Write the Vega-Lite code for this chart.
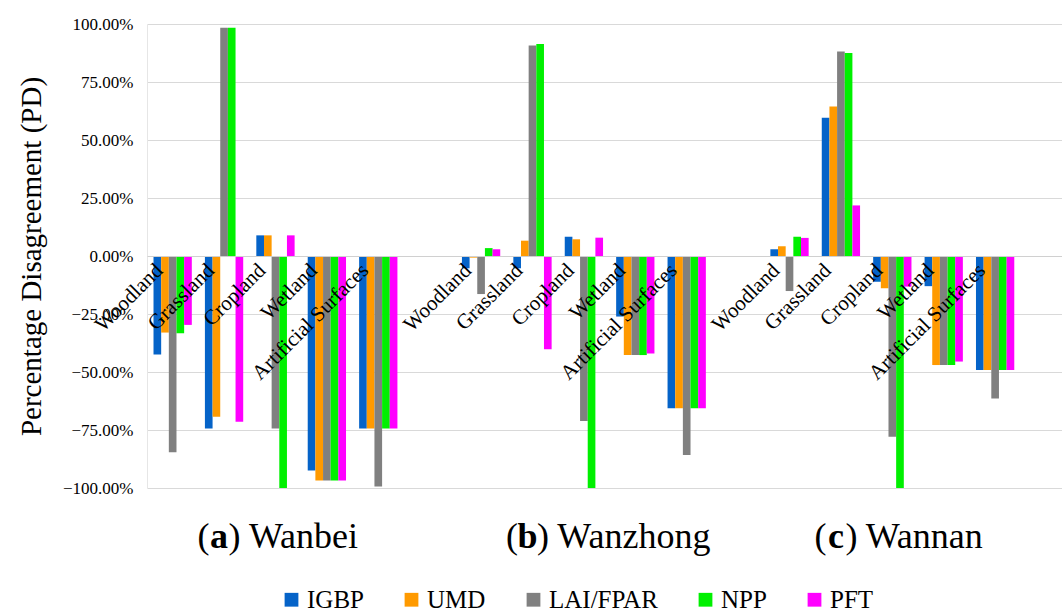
{
  "$schema": "https://vega.github.io/schema/vega-lite/v6.json",
  "width": 915,
  "height": 464,
  "autosize": "none",
  "padding": {"left": 147, "top": 24, "right": 0, "bottom": 126},
  "config": {"view": {"stroke": null}, "font": "Liberation Serif"},
  "datasets": {
    "bars": [
      {"cat": "Wanbei|Woodland", "product": "IGBP", "value": -0.425},
      {"cat": "Wanbei|Woodland", "product": "UMD", "value": -0.33},
      {"cat": "Wanbei|Woodland", "product": "LAI/FPAR", "value": -0.846},
      {"cat": "Wanbei|Woodland", "product": "NPP", "value": -0.333},
      {"cat": "Wanbei|Woodland", "product": "PFT", "value": -0.297},
      {"cat": "Wanbei|Grassland", "product": "IGBP", "value": -0.743},
      {"cat": "Wanbei|Grassland", "product": "UMD", "value": -0.693},
      {"cat": "Wanbei|Grassland", "product": "LAI/FPAR", "value": 0.984},
      {"cat": "Wanbei|Grassland", "product": "NPP", "value": 0.984},
      {"cat": "Wanbei|Grassland", "product": "PFT", "value": -0.714},
      {"cat": "Wanbei|Cropland", "product": "IGBP", "value": 0.089},
      {"cat": "Wanbei|Cropland", "product": "UMD", "value": 0.089},
      {"cat": "Wanbei|Cropland", "product": "LAI/FPAR", "value": -0.743},
      {"cat": "Wanbei|Cropland", "product": "NPP", "value": -1.0},
      {"cat": "Wanbei|Cropland", "product": "PFT", "value": 0.089},
      {"cat": "Wanbei|Wetland", "product": "IGBP", "value": -0.925},
      {"cat": "Wanbei|Wetland", "product": "UMD", "value": -0.968},
      {"cat": "Wanbei|Wetland", "product": "LAI/FPAR", "value": -0.968},
      {"cat": "Wanbei|Wetland", "product": "NPP", "value": -0.968},
      {"cat": "Wanbei|Wetland", "product": "PFT", "value": -0.968},
      {"cat": "Wanbei|Artificial Surfaces", "product": "IGBP", "value": -0.743},
      {"cat": "Wanbei|Artificial Surfaces", "product": "UMD", "value": -0.743},
      {"cat": "Wanbei|Artificial Surfaces", "product": "LAI/FPAR", "value": -0.994},
      {"cat": "Wanbei|Artificial Surfaces", "product": "NPP", "value": -0.743},
      {"cat": "Wanbei|Artificial Surfaces", "product": "PFT", "value": -0.743},
      {"cat": "Wanzhong|Woodland", "product": "IGBP", "value": -0.053},
      {"cat": "Wanzhong|Woodland", "product": "UMD", "value": -0.007},
      {"cat": "Wanzhong|Woodland", "product": "LAI/FPAR", "value": -0.164},
      {"cat": "Wanzhong|Woodland", "product": "NPP", "value": 0.034},
      {"cat": "Wanzhong|Woodland", "product": "PFT", "value": 0.029},
      {"cat": "Wanzhong|Grassland", "product": "IGBP", "value": -0.053},
      {"cat": "Wanzhong|Grassland", "product": "UMD", "value": 0.066},
      {"cat": "Wanzhong|Grassland", "product": "LAI/FPAR", "value": 0.907},
      {"cat": "Wanzhong|Grassland", "product": "NPP", "value": 0.914},
      {"cat": "Wanzhong|Grassland", "product": "PFT", "value": -0.402},
      {"cat": "Wanzhong|Cropland", "product": "IGBP", "value": 0.083},
      {"cat": "Wanzhong|Cropland", "product": "UMD", "value": 0.072},
      {"cat": "Wanzhong|Cropland", "product": "LAI/FPAR", "value": -0.711},
      {"cat": "Wanzhong|Cropland", "product": "NPP", "value": -1.0},
      {"cat": "Wanzhong|Cropland", "product": "PFT", "value": 0.079},
      {"cat": "Wanzhong|Wetland", "product": "IGBP", "value": -0.261},
      {"cat": "Wanzhong|Wetland", "product": "UMD", "value": -0.427},
      {"cat": "Wanzhong|Wetland", "product": "LAI/FPAR", "value": -0.427},
      {"cat": "Wanzhong|Wetland", "product": "NPP", "value": -0.427},
      {"cat": "Wanzhong|Wetland", "product": "PFT", "value": -0.42},
      {"cat": "Wanzhong|Artificial Surfaces", "product": "IGBP", "value": -0.656},
      {"cat": "Wanzhong|Artificial Surfaces", "product": "UMD", "value": -0.656},
      {"cat": "Wanzhong|Artificial Surfaces", "product": "LAI/FPAR", "value": -0.858},
      {"cat": "Wanzhong|Artificial Surfaces", "product": "NPP", "value": -0.656},
      {"cat": "Wanzhong|Artificial Surfaces", "product": "PFT", "value": -0.656},
      {"cat": "Wannan|Woodland", "product": "IGBP", "value": 0.029},
      {"cat": "Wannan|Woodland", "product": "UMD", "value": 0.042},
      {"cat": "Wannan|Woodland", "product": "LAI/FPAR", "value": -0.151},
      {"cat": "Wannan|Woodland", "product": "NPP", "value": 0.083},
      {"cat": "Wannan|Woodland", "product": "PFT", "value": 0.078},
      {"cat": "Wannan|Grassland", "product": "IGBP", "value": 0.596},
      {"cat": "Wannan|Grassland", "product": "UMD", "value": 0.644},
      {"cat": "Wannan|Grassland", "product": "LAI/FPAR", "value": 0.881},
      {"cat": "Wannan|Grassland", "product": "NPP", "value": 0.875},
      {"cat": "Wannan|Grassland", "product": "PFT", "value": 0.218},
      {"cat": "Wannan|Cropland", "product": "IGBP", "value": -0.111},
      {"cat": "Wannan|Cropland", "product": "UMD", "value": -0.139},
      {"cat": "Wannan|Cropland", "product": "LAI/FPAR", "value": -0.779},
      {"cat": "Wannan|Cropland", "product": "NPP", "value": -1.0},
      {"cat": "Wannan|Cropland", "product": "PFT", "value": -0.132},
      {"cat": "Wannan|Wetland", "product": "IGBP", "value": -0.13},
      {"cat": "Wannan|Wetland", "product": "UMD", "value": -0.47},
      {"cat": "Wannan|Wetland", "product": "LAI/FPAR", "value": -0.47},
      {"cat": "Wannan|Wetland", "product": "NPP", "value": -0.47},
      {"cat": "Wannan|Wetland", "product": "PFT", "value": -0.455},
      {"cat": "Wannan|Artificial Surfaces", "product": "IGBP", "value": -0.491},
      {"cat": "Wannan|Artificial Surfaces", "product": "UMD", "value": -0.491},
      {"cat": "Wannan|Artificial Surfaces", "product": "LAI/FPAR", "value": -0.614},
      {"cat": "Wannan|Artificial Surfaces", "product": "NPP", "value": -0.491},
      {"cat": "Wannan|Artificial Surfaces", "product": "PFT", "value": -0.491}
    ],
    "regions": [
      {"cat": "Wanbei|Grassland", "letter": "a", "open": "(", "rest": ") Wanbei"},
      {"cat": "Wanzhong|Grassland", "letter": "b", "open": "(", "rest": ") Wanzhong"},
      {"cat": "Wannan|Grassland", "letter": "c", "open": "(", "rest": ") Wannan"}
    ]
  },
  "layer": [
    {
      "data": {"name": "bars"},
      "mark": {"type": "bar"},
      "encoding": {
        "x": {
          "field": "cat",
          "type": "nominal",
          "sort": null,
          "scale": {
            "domain": ["Wanbei|Woodland", "Wanbei|Grassland", "Wanbei|Cropland", "Wanbei|Wetland", "Wanbei|Artificial Surfaces", "gap1",
                       "Wanzhong|Woodland", "Wanzhong|Grassland", "Wanzhong|Cropland", "Wanzhong|Wetland", "Wanzhong|Artificial Surfaces", "gap2",
                       "Wannan|Woodland", "Wannan|Grassland", "Wannan|Cropland", "Wannan|Wetland", "Wannan|Artificial Surfaces"],
            "paddingInner": 0.255,
            "paddingOuter": 0.5275,
            "align": 0.12
          },
          "axis": {
            "title": null,
            "orient": "bottom",
            "offset": -232,
            "zindex": 1,
            "domain": true,
            "domainColor": "#d0d0d0",
            "domainWidth": 1,
            "ticks": false,
            "grid": false,
            "labelAngle": -45,
            "labelAlign": "right",
            "labelBaseline": "middle",
            "labelPadding": 11,
            "labelOffset": -13,
            "labelFont": "Liberation Serif",
            "labelFontSize": 21,
            "labelColor": "#000000",
            "labelOverlap": false,
            "labelBound": false,
            "labelExpr": "indexof(datum.value, '|') > 0 ? split(datum.value, '|')[1] : ''"
          }
        },
        "xOffset": {
          "field": "product",
          "type": "nominal",
          "sort": null,
          "scale": {"domain": ["IGBP", "UMD", "LAI/FPAR", "NPP", "PFT"], "paddingInner": 0, "paddingOuter": 0}
        },
        "y": {
          "field": "value",
          "type": "quantitative",
          "scale": {"domain": [-1, 1], "nice": false, "zero": true},
          "axis": {
            "title": "Percentage Disagreement (PD)",
            "titleFont": "Liberation Serif",
            "titleFontSize": 29,
            "titleFontWeight": "normal",
            "titleColor": "#000000",
            "titlePadding": 16,
            "values": [-1, -0.75, -0.5, -0.25, 0, 0.25, 0.5, 0.75, 1],
            "format": ".2%",
            "labelFont": "Liberation Serif",
            "labelFontSize": 17,
            "labelColor": "#000000",
            "labelPadding": 14,
            "ticks": false,
            "domain": true,
            "domainColor": "#e6e6e6",
            "grid": true,
            "gridColor": "#d9d9d9",
            "gridWidth": 1,
            "zindex": 0
          }
        },
        "color": {
          "field": "product",
          "type": "nominal",
          "sort": null,
          "scale": {
            "domain": ["IGBP", "UMD", "LAI/FPAR", "NPP", "PFT"],
            "range": ["#0563C8", "#FF9A00", "#808080", "#00F000", "#FF00FF"]
          },
          "legend": {
            "title": null,
            "orient": "none",
            "legendX": 132,
            "legendY": 563,
            "direction": "horizontal",
            "columns": 5,
            "columnPadding": 35,
            "symbolType": "square",
            "symbolSize": 190,
            "symbolStrokeWidth": 0,
            "labelFont": "Liberation Serif",
            "labelFontSize": 25,
            "labelColor": "#000000",
            "labelOffset": 3
          }
        }
      }
    },
    {
      "data": {"name": "regions"},
      "mark": {"type": "text", "fontSize": 36, "fontWeight": "bold", "font": "Liberation Serif", "align": "center", "baseline": "middle", "color": "#000000", "dx": -5},
      "encoding": {
        "x": {"field": "cat", "type": "nominal", "sort": null},
        "y": {"datum": -1.21, "type": "quantitative"},
        "text": {"field": "letter"}
      }
    },
    {
      "data": {"name": "regions"},
      "mark": {"type": "text", "fontSize": 36, "font": "Liberation Serif", "align": "right", "baseline": "middle", "color": "#000000", "dx": -14.5},
      "encoding": {
        "x": {"field": "cat", "type": "nominal", "sort": null},
        "y": {"datum": -1.21, "type": "quantitative"},
        "text": {"field": "open"}
      }
    },
    {
      "data": {"name": "regions"},
      "mark": {"type": "text", "fontSize": 36, "font": "Liberation Serif", "align": "left", "baseline": "middle", "color": "#000000", "dx": 4.5},
      "encoding": {
        "x": {"field": "cat", "type": "nominal", "sort": null},
        "y": {"datum": -1.21, "type": "quantitative"},
        "text": {"field": "rest"}
      }
    }
  ]
}
